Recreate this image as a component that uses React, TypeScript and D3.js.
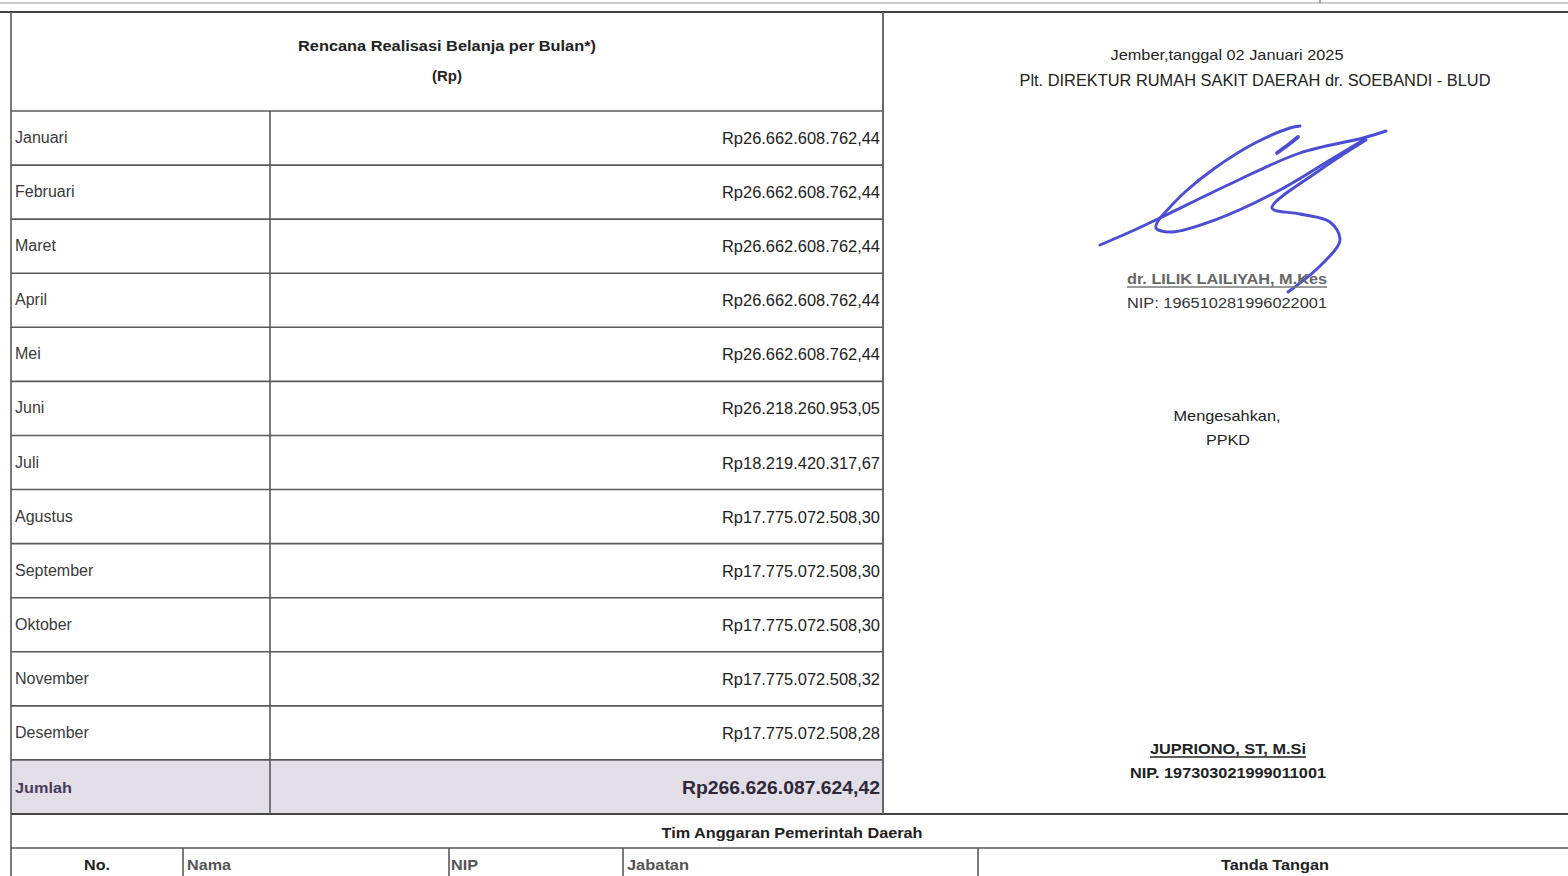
import { useEffect, useRef } from 'react';
import * as d3 from 'd3';

const months = ['Januari', 'Februari', 'Maret', 'April', 'Mei', 'Juni', 'Juli', 'Agustus', 'September', 'Oktober', 'November', 'Desember'];
const monthValues = [
  26662608762.44, 26662608762.44, 26662608762.44, 26662608762.44, 26662608762.44,
  26218260953.05, 18219420317.67, 17775072508.30, 17775072508.30, 17775072508.30,
  17775072508.32, 17775072508.28,
];
const totalLabel = 'Jumlah';
const totalValue = 266626087624.42;

const headerLines = ['Rencana Realisasi Belanja per Bulan*)', '(Rp)'];
const teamTitle = 'Tim Anggaran Pemerintah Daerah';
const teamColumns = ['No.', 'Nama', 'NIP', 'Jabatan', 'Tanda Tangan'];

// signature strokes (pen path, screen units)
const sigStrokes: [number, number][][] = [
  [[1100, 245], [1130, 232], [1160, 218], [1230, 184], [1300, 153], [1363, 138], [1386, 131]],
  [[1160, 218], [1156, 228], [1172, 232], [1215, 220], [1280, 190], [1335, 157], [1365, 139]],
  [[1160, 218], [1185, 192], [1215, 168], [1255, 143], [1290, 128], [1300, 126]],
  [[1277, 153], [1288, 145], [1298, 137]],
  [[1366, 140], [1320, 170], [1272, 208], [1300, 214], [1330, 222], [1340, 240], [1320, 266], [1288, 292]],
];

const idr = d3.formatLocale({ decimal: ',', thousands: '.', grouping: [3], currency: ['Rp', ''] });
const fmt = idr.format('$,.2f');

const W = 1568;
const H = 876;
const FONT = "'Liberation Sans', Arial, sans-serif";

export default function App() {
  const svgRef = useRef<SVGSVGElement>(null);

  useEffect(() => {
    if (!svgRef.current) return;
    const svg = d3.select(svgRef.current);
    svg.selectAll('*').remove();

    const tableL = 11;
    const tableR = 883;
    const colSplit = 270;
    const top = 12;
    const headBottom = 111;
    const tableBottom = 814;
    const lineColor = '#5a5a5a';

    const rowKeys = [...months, totalLabel];
    const y = d3.scaleBand<string>().domain(rowKeys).range([headBottom, tableBottom]);

    svg.append('rect').attr('width', W).attr('height', H).attr('fill', '#fff');

    // total row shading
    svg.append('rect')
      .attr('x', tableL).attr('y', y(totalLabel)!)
      .attr('width', tableR - tableL).attr('height', y.bandwidth())
      .attr('fill', '#e2dfe8');

    // top border lines
    svg.append('line').attr('x1', 0).attr('x2', W).attr('y1', 3).attr('y2', 3)
      .attr('stroke', '#9a9a9a').attr('stroke-width', 1.2);
    svg.append('line').attr('x1', 1320).attr('x2', 1320).attr('y1', 0).attr('y2', 3)
      .attr('stroke', '#777').attr('stroke-width', 1.2);
    svg.append('line').attr('x1', 0).attr('x2', W).attr('y1', top).attr('y2', top)
      .attr('stroke', '#444').attr('stroke-width', 2.2);

    // horizontal row lines
    svg.selectAll('.rowline')
      .data(rowKeys)
      .enter().append('line')
      .attr('class', 'rowline')
      .attr('x1', tableL).attr('x2', tableR)
      .attr('y1', d => y(d)!).attr('y2', d => y(d)!)
      .attr('stroke', lineColor).attr('stroke-width', 1.6);

    svg.append('line').attr('x1', tableL).attr('x2', W).attr('y1', tableBottom).attr('y2', tableBottom)
      .attr('stroke', '#444').attr('stroke-width', 2.2);

    // vertical lines
    const vl = (x: number, y1: number, y2: number, w = 1.6) =>
      svg.append('line').attr('x1', x).attr('x2', x).attr('y1', y1).attr('y2', y2)
        .attr('stroke', lineColor).attr('stroke-width', w);
    vl(tableL, top, H, 1.6);
    vl(tableR, top, tableBottom, 1.8);
    vl(colSplit, headBottom, tableBottom, 1.6);

    // header text
    svg.append('text').text(headerLines[0])
      .attr('x', 447).attr('y', 51).attr('text-anchor', 'middle')
      .attr('font-family', FONT).attr('font-weight', 'bold').attr('font-size', 14)
      .attr('textLength', 298).attr('lengthAdjust', 'spacingAndGlyphs').attr('fill', '#222');
    svg.append('text').text(headerLines[1])
      .attr('x', 447).attr('y', 81).attr('text-anchor', 'middle')
      .attr('font-family', FONT).attr('font-weight', 'bold').attr('font-size', 15).attr('fill', '#222');

    // month labels + values
    svg.selectAll('.mlabel')
      .data(months)
      .enter().append('text')
      .attr('class', 'mlabel')
      .attr('x', 15).attr('y', d => y(d)! + y.bandwidth() / 2 + 5)
      .attr('font-family', FONT).attr('font-size', 16).attr('fill', '#3a3a3a')
      .text(d => d);

    svg.selectAll('.mvalue')
      .data(monthValues)
      .enter().append('text')
      .attr('class', 'mvalue')
      .attr('x', 880).attr('y', (_, i) => y(months[i])! + y.bandwidth() / 2 + 6)
      .attr('text-anchor', 'end')
      .attr('font-family', FONT).attr('font-size', 16).attr('fill', '#222')
      .attr('textLength', 158).attr('lengthAdjust', 'spacingAndGlyphs')
      .text(d => fmt(d));

    svg.append('text').text(totalLabel)
      .attr('x', 15).attr('y', y(totalLabel)! + y.bandwidth() / 2 + 6)
      .attr('font-family', FONT).attr('font-weight', 'bold').attr('font-size', 15)
      .attr('textLength', 57).attr('lengthAdjust', 'spacingAndGlyphs')
      .attr('fill', '#4a3b5c');
    svg.append('text').text(fmt(totalValue))
      .attr('x', 880).attr('y', y(totalLabel)! + y.bandwidth() / 2 + 7)
      .attr('text-anchor', 'end')
      .attr('font-family', FONT).attr('font-weight', 'bold').attr('font-size', 18)
      .attr('textLength', 198).attr('lengthAdjust', 'spacingAndGlyphs')
      .attr('fill', '#2e2838');

    // right panel text
    const rt = (t: string, x: number, yy: number, size: number, len: number, opts: { bold?: boolean; color?: string } = {}) =>
      svg.append('text').text(t)
        .attr('x', x).attr('y', yy).attr('text-anchor', 'middle')
        .attr('font-family', FONT).attr('font-size', size)
        .attr('font-weight', opts.bold ? 'bold' : 'normal')
        .attr('fill', opts.color || '#222')
        .attr('textLength', len).attr('lengthAdjust', 'spacingAndGlyphs');

    rt('Jember,tanggal 02 Januari 2025', 1227, 60, 15, 233);
    rt('Plt. DIREKTUR RUMAH SAKIT DAERAH dr. SOEBANDI - BLUD', 1255, 86, 16, 471);

    // signature
    const sigLine = d3.line<[number, number]>().curve(d3.curveCatmullRom.alpha(0.5));
    svg.append('g').selectAll('path')
      .data(sigStrokes)
      .enter().append('path')
      .attr('d', d => sigLine(d)!)
      .attr('fill', 'none')
      .attr('stroke', '#4a4ed2')
      .attr('stroke-width', (_, i) => (i === 3 ? 3.8 : 2.9))
      .attr('stroke-linecap', 'round');

    rt('dr. LILIK LAILIYAH, M.Kes', 1227, 284, 15, 200, { bold: true, color: '#666' });
    svg.append('line').attr('x1', 1127).attr('x2', 1327).attr('y1', 287).attr('y2', 287)
      .attr('stroke', '#777').attr('stroke-width', 1.3);
    rt('NIP: 196510281996022001', 1227, 308, 15, 200, { color: '#333' });

    rt('Mengesahkan,', 1227, 421, 15, 107);
    rt('PPKD', 1228, 445, 15, 44);

    rt('JUPRIONO, ST, M.Si', 1228, 754, 15, 156, { bold: true });
    svg.append('line').attr('x1', 1150).attr('x2', 1306).attr('y1', 757).attr('y2', 757)
      .attr('stroke', '#222').attr('stroke-width', 1.3);
    rt('NIP. 197303021999011001', 1228, 778, 15, 196, { bold: true });

    // team section
    rt(teamTitle, 792, 838, 15, 261, { bold: true });
    svg.append('line').attr('x1', tableL).attr('x2', W).attr('y1', 848).attr('y2', 848)
      .attr('stroke', '#555').attr('stroke-width', 1.6);

    const teamX = d3.scaleOrdinal<string, number>().domain(teamColumns).range([97, 187, 451, 627, 1275]);
    const teamLen = d3.scaleOrdinal<string, number>().domain(teamColumns).range([26, 44, 27, 62, 108]);
    const centered = new Set(['No.', 'Tanda Tangan']);
    svg.selectAll('.tcol')
      .data(teamColumns)
      .enter().append('text')
      .attr('class', 'tcol')
      .attr('x', d => teamX(d))
      .attr('y', 870)
      .attr('text-anchor', d => (centered.has(d) ? 'middle' : 'start'))
      .attr('font-family', FONT).attr('font-weight', 'bold').attr('font-size', 15)
      .attr('fill', d => (centered.has(d) ? '#222' : '#555'))
      .attr('textLength', d => teamLen(d)).attr('lengthAdjust', 'spacingAndGlyphs')
      .text(d => d);

    [183, 449, 623, 978].forEach(x => vl(x, 848, H, 1.6));
  }, []);

  return (
    <svg ref={svgRef} width={W} height={H} style={{ position: 'absolute', left: 0, top: 0, display: 'block' }} />
  );
}
